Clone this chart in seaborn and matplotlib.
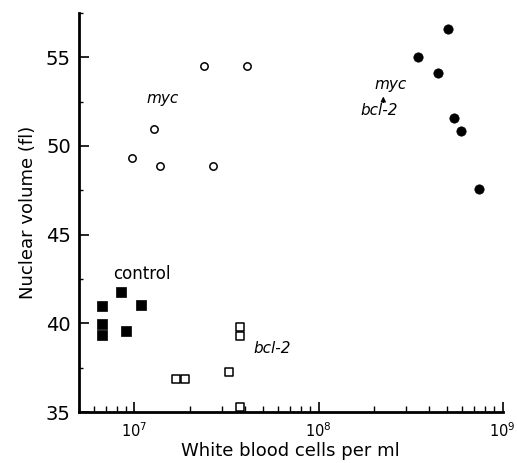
import numpy as np
import pandas as pd
import matplotlib
matplotlib.use('Agg')
import matplotlib.pyplot as plt
import seaborn as sns
from matplotlib.ticker import LogLocator, MultipleLocator, NullFormatter

# data (white blood cells per ml, nuclear volume in fl)
myc_wbc = [9.75e6, 1.27e7, 1.38e7, 2.39e7, 4.08e7, 2.67e7]
myc_vol = [49.3, 50.95, 48.9, 54.5, 54.5, 48.9]

myc_bcl2_wbc = [5.05e8, 3.47e8, 4.46e8, 5.43e8, 5.93e8, 7.41e8]
myc_bcl2_vol = [56.6, 55.0, 54.1, 51.6, 50.85, 47.6]

control_wbc = [6.7e6, 6.7e6, 6.7e6, 8.4e6, 8.95e6, 1.08e7]
control_vol = [41.0, 39.95, 39.35, 41.75, 39.55, 41.05]

bcl2_wbc = [1.69e7, 1.89e7, 3.26e7, 3.74e7, 3.74e7, 3.74e7]
bcl2_vol = [36.85, 36.85, 37.25, 39.8, 39.3, 35.3]

sns.set_style('ticks')
plt.rcParams['font.family'] = ['DejaVu Sans']
plt.rcParams['text.color'] = 'black'
plt.rcParams['axes.labelcolor'] = 'black'
plt.rcParams['xtick.color'] = 'black'
plt.rcParams['ytick.color'] = 'black'
plt.rcParams['axes.edgecolor'] = 'black'

fig = plt.figure(figsize=(5.17, 4.63), dpi=100)
ax = fig.add_axes([0.153, 0.110, 0.819, 0.862])

# open circles: myc
sns.scatterplot(x=myc_wbc, y=myc_vol, ax=ax, marker='o', s=28,
                facecolor='white', edgecolor='black', linewidth=1.1, clip_on=False)
# filled circles: myc + bcl-2
sns.scatterplot(x=myc_bcl2_wbc, y=myc_bcl2_vol, ax=ax, marker='o', s=45,
                color='black', edgecolor='black', linewidth=0.5, clip_on=False)
# filled squares: control
sns.scatterplot(x=control_wbc, y=control_vol, ax=ax, marker='s', s=45,
                color='black', edgecolor='black', linewidth=0.5, clip_on=False)
# open squares: bcl-2
sns.scatterplot(x=bcl2_wbc, y=bcl2_vol, ax=ax, marker='s', s=30,
                facecolor='white', edgecolor='black', linewidth=1.1, clip_on=False)

ax.set_xscale('log')
ax.set_xlim(5e6, 1e9)
ax.set_ylim(35, 57.5)

ax.xaxis.set_major_locator(LogLocator(base=10, numticks=10))
ax.xaxis.set_minor_locator(LogLocator(base=10, subs=np.arange(2, 10), numticks=20))
ax.xaxis.set_minor_formatter(NullFormatter())
ax.yaxis.set_major_locator(MultipleLocator(5))
ax.yaxis.set_minor_locator(MultipleLocator(2.5))

ax.tick_params(which='major', direction='in', length=7, width=1.2, labelsize=14, pad=6)
ax.tick_params(axis='x', which='major', labelsize=10.5, pad=7)
ax.tick_params(which='minor', direction='in', length=4, width=1.0)
ax.tick_params(axis='y', which='minor', length=3)

sns.despine(ax=ax)
for side in ['left', 'bottom']:
    ax.spines[side].set_linewidth(2)

ax.set_xlabel('White blood cells per ml', fontsize=13, labelpad=1)
ax.set_ylabel('Nuclear volume (fl)', fontsize=13, labelpad=6)

# group labels
ax.text(1.42e7, 52.7, 'myc', style='italic', fontsize=11, ha='center', va='center')
ax.text(1.09e7, 42.8, 'control', fontsize=12, ha='center', va='center')
ax.text(5.6e7, 38.6, 'bcl-2', style='italic', fontsize=11, ha='center', va='center')
ax.text(2.45e8, 53.45, 'myc', style='italic', fontsize=11, ha='center', va='center')
ax.text(2.15e8, 52.0, 'bcl-2', style='italic', fontsize=11, ha='center', va='center')
ax.annotate('', xy=(2.25e8, 52.95), xytext=(2.25e8, 52.3),
            arrowprops=dict(arrowstyle='-|>', color='black', lw=1.0,
                            mutation_scale=7))

fig.savefig('out.png', dpi=100)
